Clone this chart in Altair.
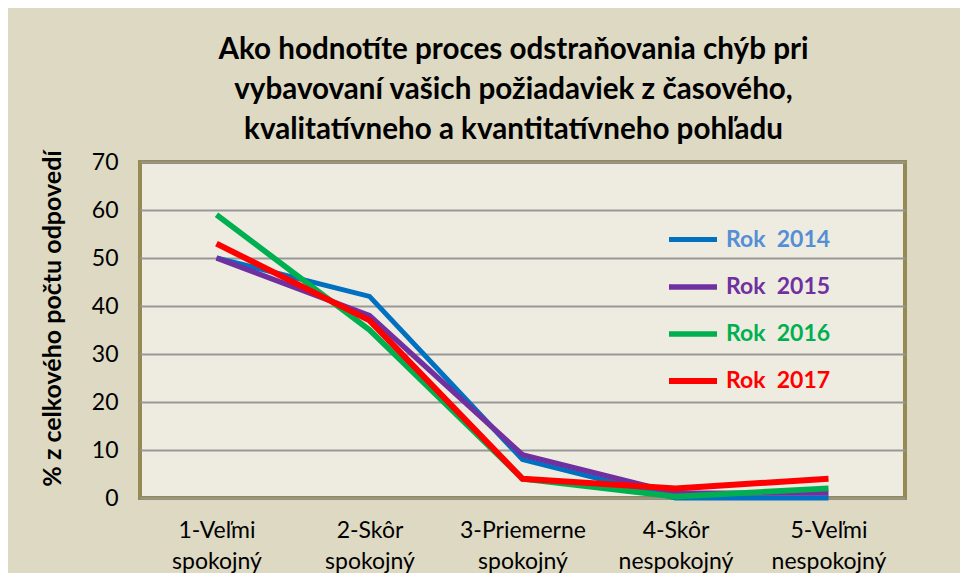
import altair as alt
import pandas as pd

categories = ["1-Veľmi spokojný", "2-Skôr spokojný", "3-Priemerne spokojný",
              "4-Skôr nespokojný", "5-Veľmi nespokojný"]
series_names = ["Rok \u00a02014", "Rok \u00a02015", "Rok \u00a02016", "Rok \u00a02017"]
v2014 = [50, 42, 8, 0, 0]
v2015 = [50, 38, 9, 1, 1]
v2016 = [59, 35, 4, 0.3, 2]
v2017 = [53, 37, 4, 2, 4]
line_colors = ["#0070C0", "#7030A0", "#00B050", "#FF0000"]
label_colors = ["#558ED5", "#7030A0", "#00B050", "#FF0000"]
line_widths = [5, 6, 4, 5]
y_ticks = [0, 10, 20, 30, 40, 50, 60, 70]
title_lines = ["Ako hodnotíte proces odstraňovania chýb pri",
               "vybavovaní vašich požiadaviek z časového,",
               "kvalitatívneho a kvantitatívneho pohľadu"]
y_title = "% z celkového počtu odpovedí"

rows = []
for name, vals in zip(series_names, [v2014, v2015, v2016, v2017]):
    for c, v in zip(categories, vals):
        rows.append({"cat": c, "value": v, "series": name})
df = pd.DataFrame(rows)

FONT = "Lato"
label_color_expr = "[" + ",".join("'%s'" % c for c in label_colors) + "][datum.index]"

chart = alt.Chart(df).mark_line(clip=False).encode(
    x=alt.X("cat:N", sort=categories, title=None,
            scale=alt.Scale(type="point", padding=0.5),
            axis=alt.Axis(labelAngle=0, labelExpr="split(datum.label, ' ')",
                          labelFont=FONT, labelFontSize=23, labelColor="#000000",
                          labelLineHeight=31, labelPadding=21, labelBaseline="top",
                          domain=False, ticks=False, grid=False)),
    y=alt.Y("value:Q", title=y_title,
            scale=alt.Scale(domain=[0, 70], nice=False),
            axis=alt.Axis(values=y_ticks, labelFont=FONT, labelFontSize=23,
                          labelColor="#000000", labelPadding=22,
                          domain=False, ticks=False,
                          gridColor="#979797", gridWidth=2,
                          titleFont=FONT, titleFontSize=25, titleFontWeight="bold",
                          titleColor="#000000", titleAngle=-90,
                          titleX=-88, titleY=156, titleAlign="center",
                          titleBaseline="middle")),
    color=alt.Color("series:N", sort=series_names,
                    scale=alt.Scale(domain=series_names, range=line_colors),
                    legend=alt.Legend(title=None, orient="none",
                                      legendX=526, legendY=51,
                                      symbolType="stroke", symbolSize=2304,
                                      symbolStrokeWidth=5,
                                      labelFont=FONT, labelFontSize=23,
                                      labelFontWeight="bold",
                                      labelColor=alt.ExprRef(label_color_expr),
                                      labelOffset=6, rowPadding=8,
                                      labelLimit=300)),
    strokeWidth=alt.StrokeWidth("series:N",
                                scale=alt.Scale(domain=series_names, range=line_widths),
                                legend=None),
).properties(
    width=765,
    height=336,
    title=alt.TitleParams(text=title_lines, font=FONT, fontSize=29.6,
                          fontWeight="bold", color="#000000", anchor="middle",
                          lineHeight=40, baseline="alphabetic", offset=20, dx=-9,
                          dy=39),
    background="#DDD9C3",
    padding={"left": 132, "top": 154, "right": 55, "bottom": 75},
    autosize=alt.AutoSizeParams(type="none"),
).configure_view(
    fill="#EEECE1", stroke="#948A54", strokeWidth=4
).configure_line(
    strokeJoin="miter", strokeCap="butt"
)

chart.save("out.html", embed_options={"renderer": "svg", "actions": False})
